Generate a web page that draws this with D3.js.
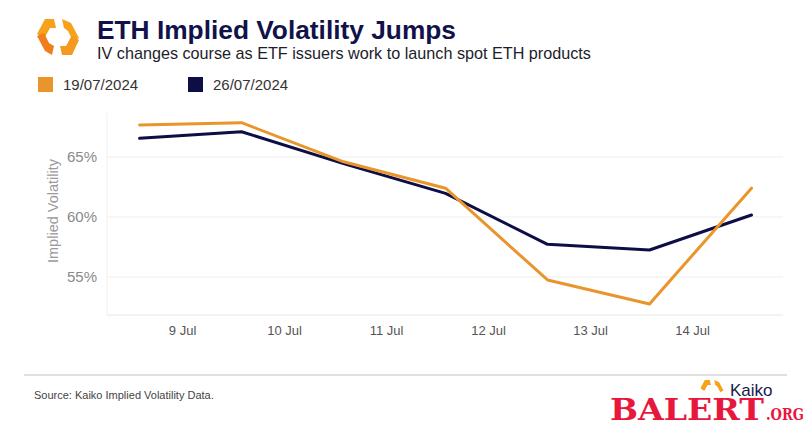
<!DOCTYPE html>
<html><head><meta charset="utf-8">
<script src="https://cdn.jsdelivr.net/npm/d3@7"></script>
<style>body{margin:0;background:#fff}svg{display:block}</style>
</head><body>
<svg id="c" width="811" height="427"></svg>
<script>
const dates = ["2024-07-08T14:00","2024-07-09T14:00","2024-07-10T14:00","2024-07-11T14:00","2024-07-12T14:00","2024-07-13T14:00","2024-07-14T14:00"];
const series19 = [67.67, 67.86, 64.6, 62.4, 54.75, 52.75, 62.4];
const series26 = [66.56, 67.11, 64.45, 61.97, 57.72, 57.25, 60.17];
const seriesNames = ["19/07/2024","26/07/2024"];
const seriesColors = ["#e9952c","#0e0e46"];
const yTicks = [55, 60, 65];
const xTickDates = ["2024-07-09","2024-07-10","2024-07-11","2024-07-12","2024-07-13","2024-07-14"];
const yDomain = [51.83, 68.67];
const xDomain = ["2024-07-08T06:20","2024-07-14T21:25"];

const parse = d3.isoParse;
const svg = d3.select("#c");
const font = "'Liberation Sans', Arial, sans-serif";
const W = {l:107, r:783, t:113, b:315};

const x = d3.scaleTime().domain(xDomain.map(parse)).range([W.l, W.r]);
const y = d3.scaleLinear().domain(yDomain).range([W.b, W.t]);

// logo
const lg = svg.append("g").attr("transform","translate(58,37)");
lg.append("path").attr("d","M-4,-18 L-13,-18 L-21,-3 L-14,2 L-8,-9 L-2,-9 Z").attr("fill","#f7a21b");
lg.append("path").attr("d","M-21,-1 L-13,14 L-6,18 L-4,9 L-9,6 L-14,-4 Z").attr("fill","#f07e1c");
lg.append("path").attr("d","M4,-18 L6,-9 L10,-6 L15,4 L21,1 L13,-14 Z").attr("fill","#f7a21b");
lg.append("path").attr("d","M21,3 L14,18 L4,18 L2,9 L8,9 L14,-2 Z").attr("fill","#f49a1e");

svg.append("text").attr("x",97).attr("y",39).attr("font-family",font).attr("font-weight","bold")
  .attr("font-size",26.3).attr("fill","#12124a").text("ETH Implied Volatility Jumps");
svg.append("text").attr("x",97).attr("y",59).attr("font-family",font)
  .attr("font-size",16.2).attr("fill","#1d1d2b").text("IV changes course as ETF issuers work to launch spot ETH products");

// legend
const legX = [38, 188];
seriesNames.forEach((n,i)=>{
  svg.append("rect").attr("x",legX[i]).attr("y",77).attr("width",15).attr("height",15).attr("fill",seriesColors[i]);
  svg.append("text").attr("x",legX[i]+25).attr("y",90).attr("font-family",font).attr("font-size",15)
    .attr("fill","#333").text(n);
});

// grid
const g = svg.append("g");
g.selectAll("line.grid").data(yTicks).join("line").attr("class","grid")
  .attr("x1",W.l).attr("x2",W.r).attr("y1",d=>y(d)).attr("y2",d=>y(d))
  .attr("stroke","#eeeeee").attr("stroke-width",1);
g.append("line").attr("x1",W.l).attr("x2",W.r).attr("y1",W.b).attr("y2",W.b).attr("stroke","#e6e6e6");
g.append("line").attr("x1",W.l).attr("x2",W.l).attr("y1",W.t).attr("y2",W.b).attr("stroke","#f1f1f1");

// y axis
const ya = svg.append("g").attr("transform",`translate(${W.l},0)`)
  .call(d3.axisLeft(y).tickValues(yTicks).tickSize(0).tickPadding(10).tickFormat(d=>d+"%"));
ya.select(".domain").remove();
ya.selectAll("text").attr("font-family",font).attr("font-size",15).attr("fill","#8a8a8a");

// x axis
const xa = svg.append("g").attr("transform",`translate(0,${W.b})`)
  .call(d3.axisBottom(x).tickValues(xTickDates.map(parse)).tickSize(0).tickPadding(11).tickFormat(d3.timeFormat("%-d %b")));
xa.select(".domain").remove();
xa.selectAll("text").attr("font-family",font).attr("font-size",13).attr("fill","#555");

svg.append("text").attr("transform",`translate(58,211) rotate(-90)`).attr("text-anchor","middle")
  .attr("font-family",font).attr("font-size",14.5).attr("fill","#9a9a9a").text("Implied Volatility");

// lines
const line = d3.line().x((d,i)=>x(parse(dates[i]))).y(d=>y(d));
[series26, series19].forEach((s,k)=>{
  const i = k===0?1:0;
  svg.append("path").datum(s).attr("d",line).attr("fill","none")
    .attr("stroke",seriesColors[i]).attr("stroke-width",3).attr("stroke-linejoin","round").attr("stroke-linecap","round");
});

// footer
svg.append("line").attr("x1",24).attr("x2",787).attr("y1",375).attr("y2",375).attr("stroke","#d6d6d6").attr("stroke-width",1.5);
svg.append("text").attr("x",34).attr("y",399).attr("font-family",font).attr("font-size",11).attr("fill","#444")
  .text("Source: Kaiko Implied Volatility Data.");
const kl = svg.append("g").attr("transform","translate(712,390) scale(0.55)");
kl.append("path").attr("d","M-4,-18 L-13,-18 L-21,-3 L-14,2 L-8,-9 L-2,-9 Z").attr("fill","#f7a21b");
kl.append("path").attr("d","M4,-18 L6,-9 L10,-6 L15,4 L21,1 L13,-14 Z").attr("fill","#f7a21b");
svg.append("text").attr("x",730).attr("y",396).attr("font-family",font).attr("font-size",17).attr("fill","#1a1a4a").text("Kaiko");
svg.append("rect").attr("x",610).attr("y",397).attr("width",201).attr("height",30).attr("fill","#fff");
svg.append("text").attr("x",610).attr("y",420).attr("font-family","'DejaVu Serif', serif").attr("font-weight","bold")
  .attr("font-size",30).attr("fill","#e8173c").attr("textLength",154).attr("lengthAdjust","spacingAndGlyphs").text("BALERT");
svg.append("text").attr("x",766).attr("y",420).attr("font-family","'DejaVu Serif', serif").attr("font-weight","bold")
  .attr("font-size",16).attr("fill","#e8173c").attr("textLength",38).attr("lengthAdjust","spacingAndGlyphs").text(".ORG");
</script>
</body></html>
